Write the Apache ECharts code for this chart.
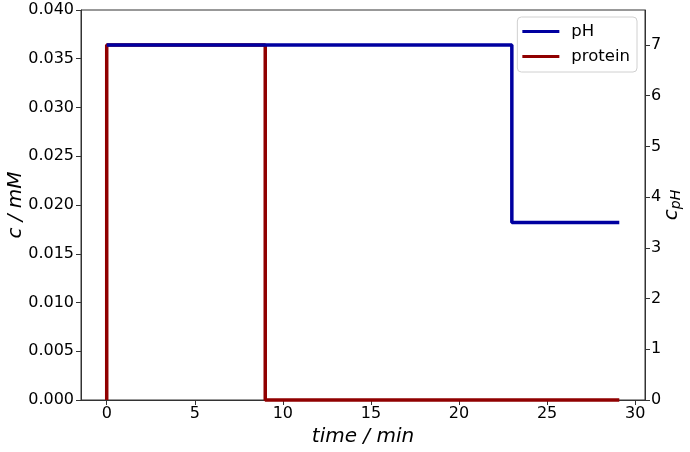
<!DOCTYPE html>
<html>
<head>
<meta charset="utf-8">
<script src="https://cdn.jsdelivr.net/npm/echarts@6/dist/echarts.min.js"></script>
<style>
html,body{margin:0;padding:0;background:#fff;}
#chart{width:690px;height:452px;}
</style>
</head>
<body>
<div id="chart"></div>
<script>
// Data
const pHTime = [0, 23, 29.1];
const pHValues = [7, 3.5, 3.5];
const proteinTime = [0, 0, 9, 29.1];
const proteinValues = [0, 0.0364, 0, 0];
const seriesNames = ['pH', 'protein'];

const FONT = 'DejaVu Sans';
const TICK_FS = 16;
const chart = echarts.init(document.getElementById('chart'), null, {renderer: 'canvas'});

const toPairs = (xs, ys) => xs.map((x, i) => [x, ys[i]]);

chart.setOption({
  animation: false,
  backgroundColor: '#fff',
  textStyle: {fontFamily: FONT},
  grid: {left: 81, right: 45, top: 10, bottom: 52, containLabel: false, outerBoundsMode: 'none',
    show: true, borderColor: '#333', borderWidth: 1, backgroundColor: 'transparent'},
  legend: {
    orient: 'vertical',
    right: 53,
    top: 17,
    data: seriesNames.map(n => ({name: n, icon: 'rect'})),
    itemWidth: 37,
    itemHeight: 3,
    itemGap: 6,
    padding: [5, 7, 6, 5],
    borderColor: '#d0d0d0',
    borderWidth: 1,
    borderRadius: 4,
    backgroundColor: 'rgba(255,255,255,0.8)',
    textStyle: {fontFamily: FONT, fontSize: 16.5, color: '#000', lineHeight: 19, padding: [0, 0, 0, 7]}
  },
  xAxis: {
    type: 'value',
    min: -1.46,
    max: 30.56,
    minInterval: 5,
    maxInterval: 5,
    name: 'time / min',
    nameLocation: 'middle',
    nameMoveOverlap: false,
    nameGap: 27,
    nameTextStyle: {fontFamily: FONT, fontSize: 20, fontStyle: 'italic', color: '#000'},
    axisLine: {show: true, onZero: false, lineStyle: {color: '#333', width: 1}},
    axisTick: {show: true, inside: false, length: 5, lineStyle: {color: '#333'}},
    axisLabel: {fontFamily: FONT, fontSize: TICK_FS, color: '#000', margin: 6, showMinLabel: false, showMaxLabel: false,
      formatter: v => (Math.abs(v % 5) < 1e-9 ? String(v) : '')},
    splitLine: {show: false}
  },
  yAxis: [
    {
      type: 'value',
      min: 0,
      max: 0.04,
      interval: 0.005,
      position: 'left',
      name: 'c / mM',
      nameLocation: 'middle',
      nameMoveOverlap: false,
      nameRotate: 90,
      nameGap: 55,
      nameTextStyle: {fontFamily: FONT, fontSize: 20, fontStyle: 'italic', color: '#000'},
      axisLine: {show: true, onZero: false, lineStyle: {color: '#333', width: 1}},
      axisTick: {show: true, length: 5, lineStyle: {color: '#333'}},
      axisLabel: {fontFamily: FONT, fontSize: TICK_FS, color: '#000', margin: 7, formatter: v => v.toFixed(3)},
      splitLine: {show: false}
    },
    {
      type: 'value',
      min: 0,
      max: 7.69,
      interval: 1,
      position: 'right',
      name: '{c|c}{s|pH}',
      nameLocation: 'middle',
      nameMoveOverlap: false,
      nameRotate: 90,
      nameGap: 15,
      nameTextStyle: {
        fontFamily: FONT, color: '#000',
        rich: {
          c: {fontFamily: FONT, fontSize: 20, fontStyle: 'italic', color: '#000'},
          s: {fontFamily: FONT, fontSize: 14, fontStyle: 'italic', color: '#000', padding: [9, 0, 0, 0]}
        }
      },
      axisLine: {show: true, onZero: false, lineStyle: {color: '#333', width: 1}},
      axisTick: {show: true, length: 5, lineStyle: {color: '#333'}},
      axisLabel: {fontFamily: FONT, fontSize: TICK_FS, color: '#000', margin: 6, showMaxLabel: false,
        formatter: v => (Math.abs(v - Math.round(v)) < 1e-9 ? String(Math.round(v)) : '')},
      splitLine: {show: false}
    }
  ],
  series: [
    {
      name: seriesNames[0],
      type: 'line',
      yAxisIndex: 1,
      step: 'end',
      data: toPairs(pHTime, pHValues),
      showSymbol: false,
      clip: false,
      z: 3,
      itemStyle: {color: '#0000a0'},
      lineStyle: {color: '#0000a0', width: 3.5}
    },
    {
      name: seriesNames[1],
      type: 'line',
      yAxisIndex: 0,
      step: 'end',
      data: toPairs(proteinTime, proteinValues),
      showSymbol: false,
      clip: false,
      z: 2,
      itemStyle: {color: '#900000'},
      lineStyle: {color: '#900000', width: 3.5}
    }
  ]
});
</script>
</body>
</html>
